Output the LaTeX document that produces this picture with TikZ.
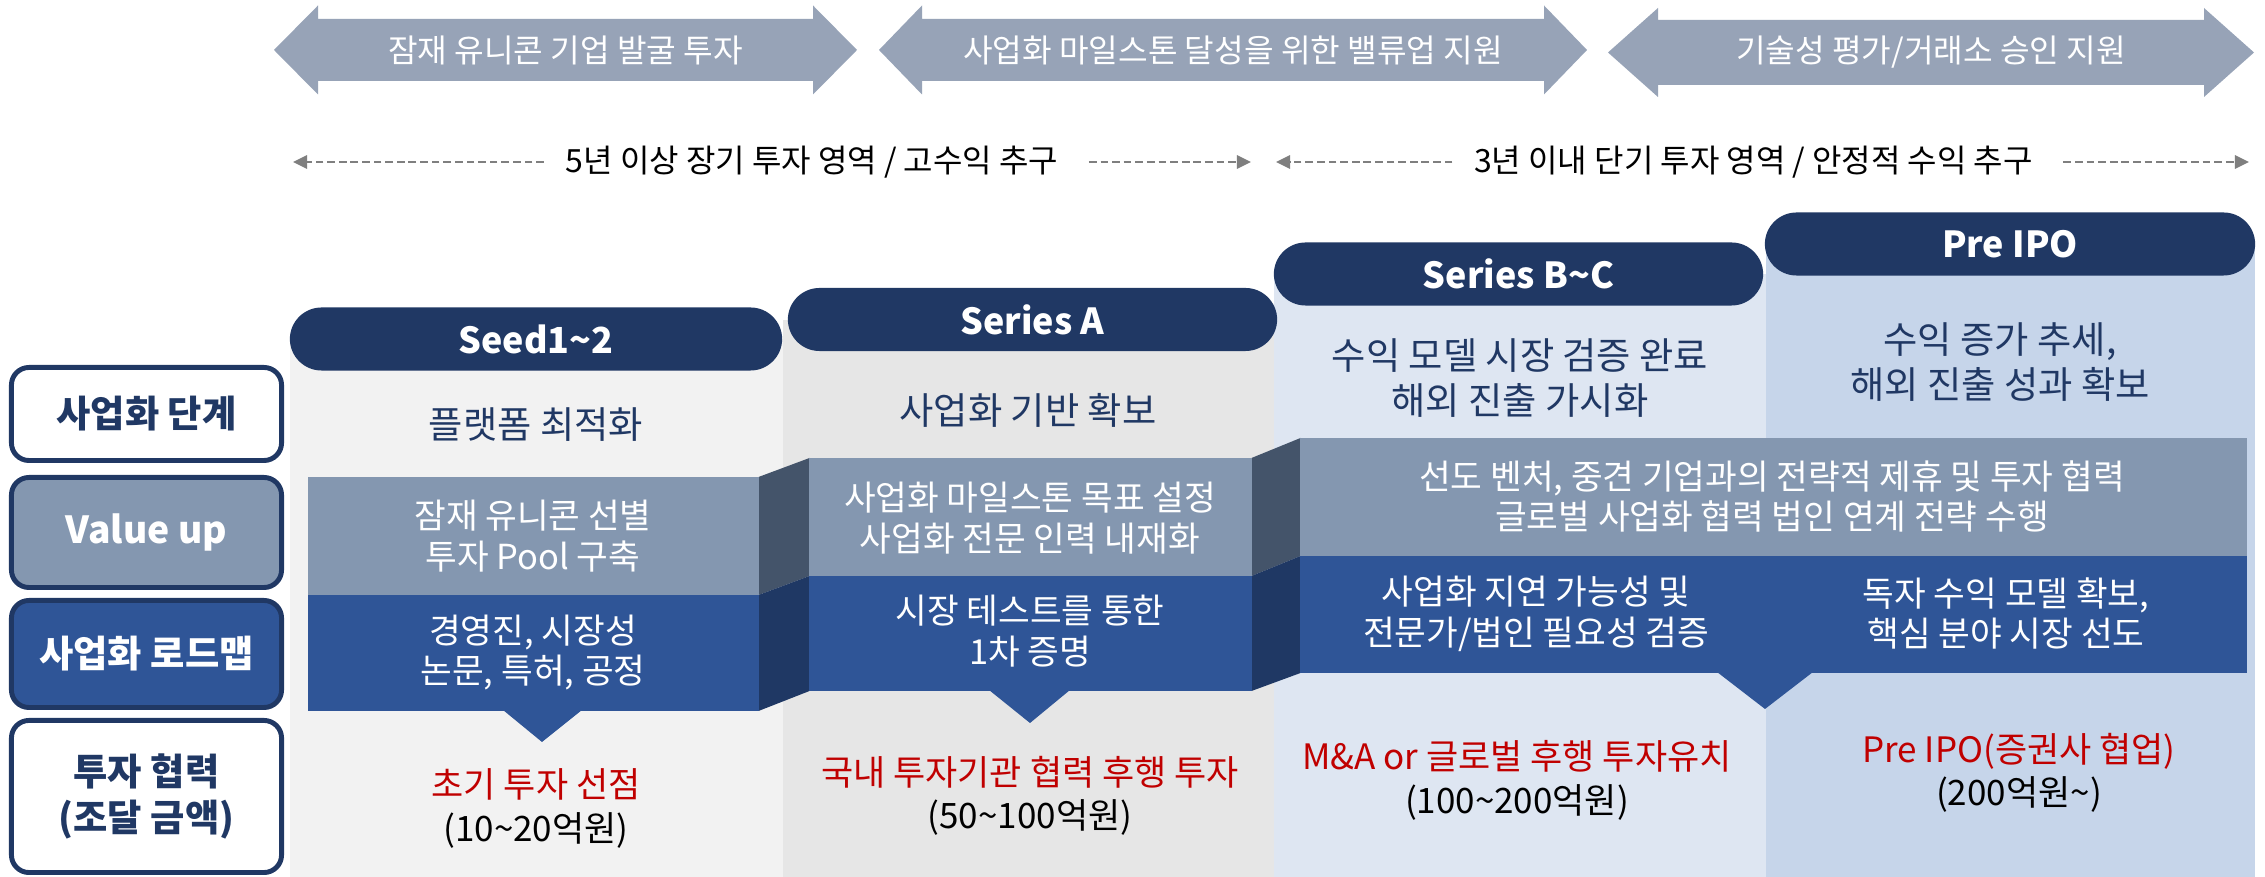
\documentclass[tikz,border=0pt]{standalone}
\usepackage{fontspec}
\setmainfont{Noto Sans CJK KR}
\usetikzlibrary{arrows.meta}
\definecolor{navy}{HTML}{203864}
\definecolor{arrgray}{HTML}{97A3B7}
\definecolor{vup}{HTML}{8497B0}
\definecolor{rmap}{HTML}{2F5597}
\definecolor{conup}{HTML}{44546A}
\definecolor{condn}{HTML}{1F3864}
\definecolor{bgA}{HTML}{F2F2F2}
\definecolor{bgB}{HTML}{E6E6E6}
\definecolor{bgC}{HTML}{DEE6F2}
\definecolor{bgD}{HTML}{C6D5EA}
\definecolor{redtxt}{HTML}{C00000}
\definecolor{dashgray}{HTML}{7F7F7F}
\newcommand\szArrow{\fontsize{9.15pt}{10pt}\selectfont}
\newcommand\szDash{\fontsize{9.1pt}{10pt}\selectfont}
\newcommand\szHdr{\fontsize{10.2pt}{12pt}\selectfont\bfseries}
\newcommand\szLbl{\fontsize{10.6pt}{13pt}\selectfont\bfseries}
\newcommand\szStage{\fontsize{10.6pt}{12.8pt}\selectfont}
\newcommand\szStrip{\fontsize{9.8pt}{11.6pt}\selectfont}
\newcommand\szInv{\fontsize{9.95pt}{12.3pt}\selectfont}
\begin{document}
\begin{tikzpicture}[x=0.01cm,y=-0.01cm,
  arrtxt/.style={text=white, font=\szArrow, inner sep=0pt},
  dtxt/.style={text=black, font=\szDash, inner sep=0pt},
  dasharr/.style={draw=dashgray, line width=0.6pt, dash pattern=on 2.2pt off 1.1pt, -{Triangle[length=4pt,width=3.8pt]}},
  lblbox/.style={draw=navy, line width=1.4pt, rounded corners=5pt, minimum width=2.70cm, align=center, inner sep=0pt, font=\szLbl},
  hdr/.style={fill=navy, rounded corners=9pt, text=white, font=\szHdr, inner sep=0pt, minimum height=0.63cm},
  stage/.style={text=navy, font=\szStage, align=center, inner sep=0pt},
  strip/.style={text=white, font=\szStrip, align=center, inner sep=0pt},
  inv/.style={text=black, font=\szInv, align=center, inner sep=0pt}
]
\useasboundingbox (0,0) rectangle (2265,877);
\fill[white] (0,0) rectangle (2265,877);

% ---- top arrows
\fill[arrgray] (274,50) -- (318,5.5) -- (318,19) -- (813,19) -- (813,5.5) -- (857,50) -- (813,94.5) -- (813,81) -- (318,81) -- (318,94.5) -- cycle;
\node[arrtxt] (a1) at (565.5,50) {잠재 유니콘 기업 발굴 투자};
\fill[arrgray] (879,50) -- (922,5.5) -- (922,19) -- (1544,19) -- (1544,5.5) -- (1587,50) -- (1544,94.5) -- (1544,81) -- (922,81) -- (922,94.5) -- cycle;
\node[arrtxt] (a2) at (1233,50) {사업화 마일스톤 달성을 위한 밸류업 지원};
\fill[arrgray] (1608,52.5) -- (1658,8) -- (1658,20) -- (2204,20) -- (2204,8) -- (2254,52.5) -- (2204,97) -- (2204,85) -- (1658,85) -- (1658,97) -- cycle;
\node[arrtxt] (a3) at (1931,52.5) {기술성 평가/거래소 승인 지원};

% ---- dashed range arrows
\node[dtxt] (t1) at (812,162) {5년 이상 장기 투자 영역 / 고수익 추구};
\coordinate (d1a) at (293,162);
\coordinate (d1b) at (1251,162);
\draw[dasharr, shorten <=6pt] (t1.west) -- (d1a);
\draw[dasharr, shorten <=8.5pt] (t1.east) -- (d1b);
\node[dtxt] (t2) at (1753.5,162) {3년 이내 단기 투자 영역 / 안정적 수익 추구};
\coordinate (d2a) at (1276,162);
\coordinate (d2b) at (2249,162);
\draw[dasharr, shorten <=6pt] (t2.west) -- (d2a);
\draw[dasharr, shorten <=8.5pt] (t2.east) -- (d2b);

% ---- column backgrounds
\fill[bgA] (290,339) rectangle (783,877);
\fill[bgB] (783,320) rectangle (1274,877);
\fill[bgC] (1274,274) rectangle (1766,877);
\fill[bgD] (1766,244) rectangle (2255,877);

% ---- headers
\node[hdr, minimum width=4.92cm] (h1) at (536,339) {Seed1\textasciitilde2};
\node[hdr, minimum width=4.89cm] (h2) at (1032.5,319.5) {Series A};
\node[hdr, minimum width=4.89cm] (h3) at (1518.5,274) {Series B\textasciitilde C};
\node[hdr, minimum width=4.90cm] (h4) at (2010,244) {Pre IPO};

% ---- stage texts
\node[stage] (s1) at (536,425) {플랫폼 최적화};
\node[stage] (s2) at (1028,410) {사업화 기반 확보};
\node[stage] (s3) at (1520,378) {수익 모델 시장 검증 완료\\해외 진출 가시화};
\node[stage] (s4) at (2000,362.5) {수익 증가 추세,\\해외 진출 성과 확보};

% ---- connectors between strips
\fill[conup] (758.5,477) -- (809.5,458) -- (809.5,576) -- (758.5,595) -- cycle;
\fill[condn] (758.5,595) -- (809.5,576) -- (809.5,691) -- (758.5,711) -- cycle;
\fill[conup] (1251.5,458) -- (1300.5,438) -- (1300.5,556) -- (1251.5,576) -- cycle;
\fill[condn] (1251.5,576) -- (1300.5,556) -- (1300.5,673) -- (1251.5,691) -- cycle;

% ---- strips
\fill[vup] (308,477) rectangle (759,595);
\fill[rmap] (308,595) rectangle (759,711);
\fill[rmap] (503,710) -- (582,710) -- (542,742) -- cycle;
\fill[vup] (809,458) rectangle (1252,576);
\fill[rmap] (809,576) rectangle (1252,691);
\fill[rmap] (989,690) -- (1070,690) -- (1030,723) -- cycle;
\fill[vup] (1300,438) rectangle (2247,556);
\fill[rmap] (1300,556) rectangle (2247,673);
\fill[rmap] (1717,672) -- (1813,672) -- (1765,709) -- cycle;

% ---- strip texts
\node[strip] (v1) at (533,536) {잠재 유니콘 선별\\투자 Pool 구축};
\node[strip] (r1) at (533,652.5) {경영진, 시장성\\논문, 특허, 공정};
\node[strip] (v2) at (1030,518.5) {사업화 마일스톤 목표 설정\\사업화 전문 인력 내재화};
\node[strip] (r2) at (1030,631.5) {시장 테스트를 통한\\1차 증명};
\node[strip] (v3) at (1772,496.5) {선도 벤처, 중견 기업과의 전략적 제휴 및 투자 협력\\글로벌 사업화 협력 법인 연계 전략 수행};
\node[strip] (r3) at (1536,613.5) {사업화 지연 가능성 및\\전문가/법인 필요성 검증};
\node[strip] (r4) at (2006,613.5) {독자 수익 모델 확보,\\핵심 분야 시장 선도};

% ---- investment texts
\node[inv] (i1) at (536,808.5) {{\color{redtxt}초기 투자 선점}\\(10\textasciitilde20억원)};
\node[inv] (i2) at (1030,796) {{\color{redtxt}국내 투자기관 협력 후행 투자}\\(50\textasciitilde100억원)};
\node[inv] (i3) at (1517,780.5) {{\color{redtxt}M\&A or 글로벌 후행 투자유치}\\(100\textasciitilde200억원)};
\node[inv] (i4) at (2019,773) {{\color{redtxt}Pre IPO(증권사 협업)}\\(200억원\textasciitilde)};

% ---- row labels
\node[lblbox, fill=white, text=navy, minimum height=0.93cm] (l1) at (146.5,414) {사업화 단계};
\node[lblbox, fill=vup, text=white, minimum height=1.10cm] (l2) at (146.5,532.5) {Value up};
\node[lblbox, fill=rmap, text=white, minimum height=1.07cm] (l3) at (146.5,654) {사업화 로드맵};
\node[lblbox, fill=white, text=navy, minimum height=1.52cm] (l4) at (146.5,796.5) {투자 협력\\(조달 금액)};
\end{tikzpicture}
\end{document}
